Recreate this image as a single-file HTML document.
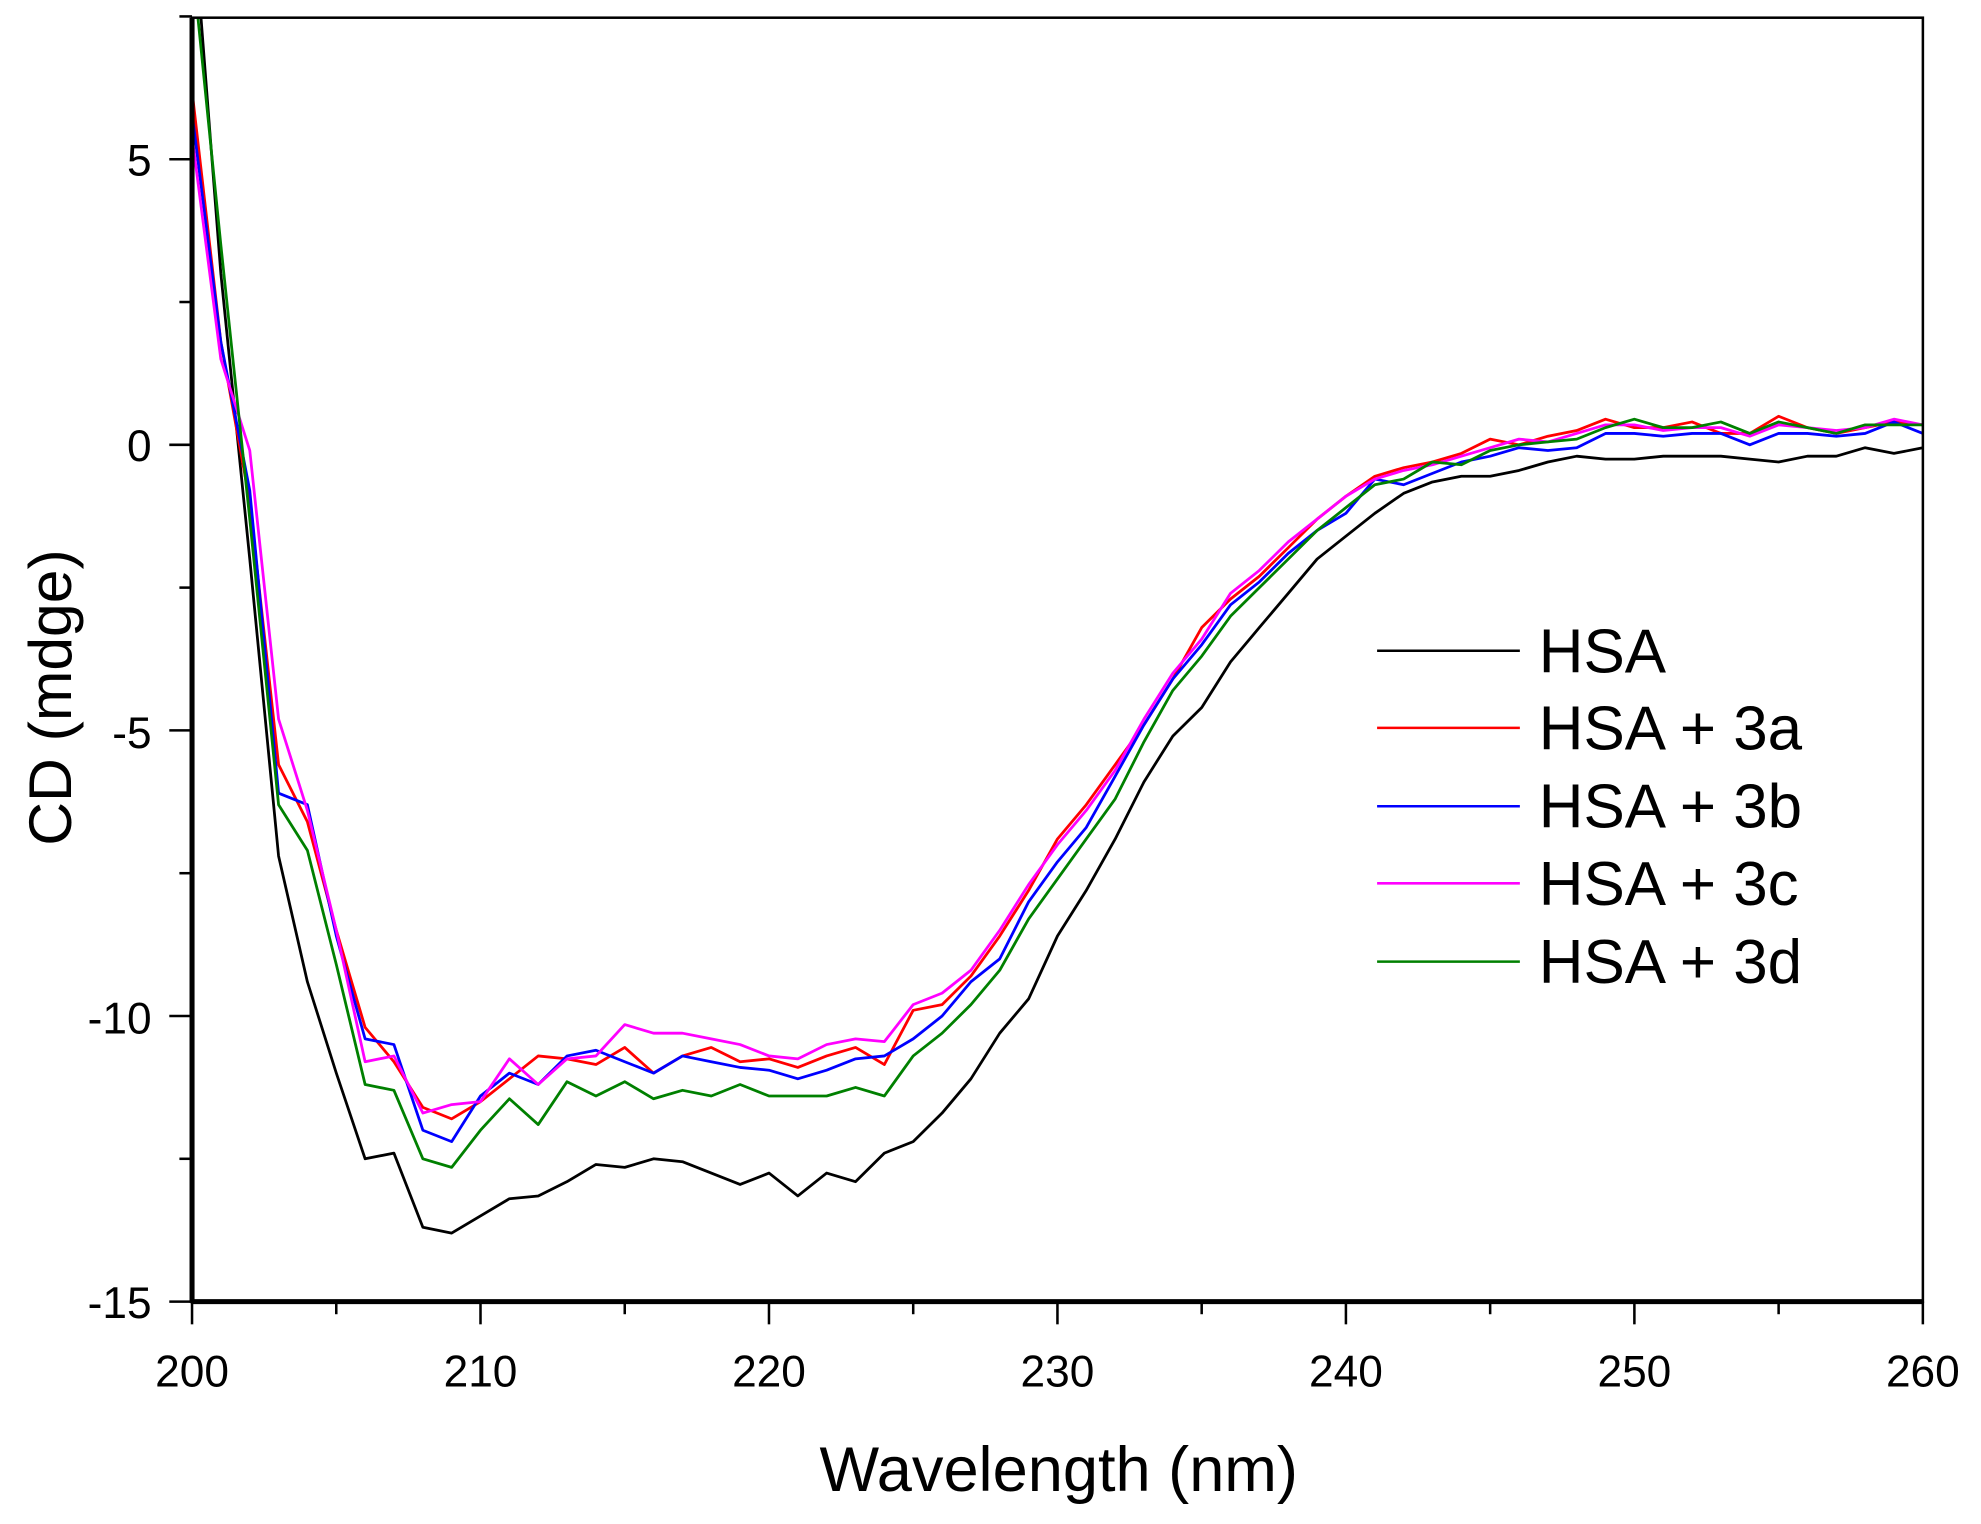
<!DOCTYPE html>
<html><head><meta charset="utf-8"><style>
html,body{margin:0;padding:0;background:#fff;width:1981px;height:1524px;overflow:hidden}
svg{display:block}
text{font-family:"Liberation Sans",Arial,sans-serif;fill:#000}
</style></head><body>
<svg id="s" width="1981" height="1524" viewBox="0 0 1568 1206" preserveAspectRatio="none" xmlns="http://www.w3.org/2000/svg">
<defs><clipPath id="c"><rect x="152" y="14" width="1370" height="1016"/></clipPath></defs>
<g id="plot" clip-path="url(#c)"></g>
<rect x="152" y="14" width="1370" height="1016" fill="none" stroke="#000" stroke-width="2"/>
<line x1="152" y1="14" x2="152" y2="1031" stroke="#000" stroke-width="4"/>
<line x1="151" y1="1030" x2="1522" y2="1030" stroke="#000" stroke-width="4"/>
<g id="ticks" stroke="#000" stroke-width="2"></g>
<g font-size="35" text-anchor="end">
<text x="120" y="139">5</text><text x="120" y="365">0</text><text x="120" y="592">-5</text><text x="120" y="818">-10</text><text x="120" y="1043">-15</text>
</g>
<g font-size="35" text-anchor="middle" id="xl"></g>
<text x="838" y="1180" font-size="50" text-anchor="middle">Wavelength (nm)</text>
<text transform="translate(56,552) rotate(-90)" font-size="48" text-anchor="middle">CD (mdge)</text>
<g font-size="49">
<line x1="1090" y1="515" x2="1203" y2="515" stroke="#000" stroke-width="2"/><text x="1218" y="532">HSA</text>
<line x1="1090" y1="576" x2="1203" y2="576" stroke="#ff0000" stroke-width="2"/><text x="1218" y="593">HSA + 3a</text>
<line x1="1090" y1="638" x2="1203" y2="638" stroke="#0000ff" stroke-width="2"/><text x="1218" y="655">HSA + 3b</text>
<line x1="1090" y1="699" x2="1203" y2="699" stroke="#ff00ff" stroke-width="2"/><text x="1218" y="716">HSA + 3c</text>
<line x1="1090" y1="761" x2="1203" y2="761" stroke="#008000" stroke-width="2"/><text x="1218" y="778">HSA + 3d</text>
</g>
</svg>
<script>
var NS="http://www.w3.org/2000/svg";
function X(n){return 152+(n-200)*22.833}
function Y(v){return 352-v*45.2}
var tk=document.getElementById('ticks'),xl=document.getElementById('xl');
function ln(a,b,c,d){var l=document.createElementNS(NS,'line');l.setAttribute('x1',a);l.setAttribute('y1',b);l.setAttribute('x2',c);l.setAttribute('y2',d);tk.appendChild(l);}
for(var n=200;n<=260;n+=5){var x=X(n);ln(x,1030,x,n%10==0?1048:1040);if(n%10==0){var t=document.createElementNS(NS,'text');t.setAttribute('x',x);t.setAttribute('y',1097);t.textContent=n;xl.appendChild(t);}}
for(var v=-15;v<=7.5;v+=2.5){var y=Y(v);ln(v%5==0?134:142,y,152,y);}
var D={
"#000000":[9.5,3,-2,-7.2,-9.4,-11,-12.5,-12.4,-13.7,-13.8,-13.5,-13.2,-13.15,-12.9,-12.6,-12.65,-12.5,-12.55,-12.75,-12.95,-12.75,-13.15,-12.75,-12.9,-12.4,-12.2,-11.7,-11.1,-10.3,-9.7,-8.6,-7.8,-6.9,-5.9,-5.1,-4.6,-3.8,-3.2,-2.6,-2.0,-1.6,-1.2,-0.85,-0.65,-0.55,-0.55,-0.45,-0.3,-0.2,-0.25,-0.25,-0.2,-0.2,-0.2,-0.25,-0.3,-0.2,-0.2,-0.05,-0.15,-0.05],
"#ff0000":[6.2,1.8,-1.0,-5.6,-6.6,-8.5,-10.2,-10.8,-11.6,-11.8,-11.5,-11.1,-10.7,-10.75,-10.85,-10.55,-11.0,-10.7,-10.55,-10.8,-10.75,-10.9,-10.7,-10.55,-10.85,-9.9,-9.8,-9.3,-8.6,-7.8,-6.9,-6.3,-5.6,-4.9,-4.1,-3.2,-2.7,-2.3,-1.8,-1.3,-0.9,-0.55,-0.4,-0.3,-0.15,0.1,0.0,0.15,0.25,0.45,0.3,0.3,0.4,0.2,0.2,0.5,0.3,0.2,0.3,0.4,0.35],
"#0000ff":[5.8,1.8,-0.8,-6.1,-6.3,-8.6,-10.4,-10.5,-12.0,-12.2,-11.4,-11.0,-11.2,-10.7,-10.6,-10.8,-11.0,-10.7,-10.8,-10.9,-10.95,-11.1,-10.95,-10.75,-10.7,-10.4,-10.0,-9.4,-9.0,-8.0,-7.3,-6.7,-5.8,-4.9,-4.1,-3.5,-2.8,-2.4,-1.9,-1.5,-1.2,-0.6,-0.7,-0.5,-0.3,-0.2,-0.05,-0.1,-0.05,0.2,0.2,0.15,0.2,0.2,0.0,0.2,0.2,0.15,0.2,0.4,0.2],
"#ff00ff":[5.4,1.5,-0.1,-4.8,-6.4,-8.5,-10.8,-10.7,-11.7,-11.55,-11.5,-10.75,-11.2,-10.75,-10.7,-10.15,-10.3,-10.3,-10.4,-10.5,-10.7,-10.75,-10.5,-10.4,-10.45,-9.8,-9.6,-9.2,-8.5,-7.7,-7.0,-6.4,-5.7,-4.8,-4.0,-3.4,-2.6,-2.2,-1.7,-1.3,-0.9,-0.6,-0.45,-0.35,-0.2,-0.05,0.1,0.05,0.2,0.35,0.35,0.25,0.3,0.3,0.15,0.35,0.3,0.25,0.3,0.45,0.35],
"#008000":[8.5,3.5,-1.3,-6.3,-7.1,-9.1,-11.2,-11.3,-12.5,-12.65,-12.0,-11.45,-11.9,-11.15,-11.4,-11.15,-11.45,-11.3,-11.4,-11.2,-11.4,-11.4,-11.4,-11.25,-11.4,-10.7,-10.3,-9.8,-9.2,-8.3,-7.6,-6.9,-6.2,-5.2,-4.3,-3.7,-3.0,-2.5,-2.0,-1.5,-1.1,-0.7,-0.6,-0.3,-0.35,-0.1,0.0,0.05,0.1,0.3,0.45,0.3,0.3,0.4,0.2,0.4,0.3,0.2,0.35,0.35,0.35]};
var g=document.getElementById('plot');
for(var c in D){var a=D[c],d='';for(var i=0;i<a.length;i++){d+=(i?'L':'M')+X(200+i).toFixed(1)+' '+Y(a[i]).toFixed(1);}
var p=document.createElementNS(NS,'path');p.setAttribute('d',d);p.setAttribute('fill','none');p.setAttribute('stroke',c);p.setAttribute('stroke-width','2.2');p.setAttribute('stroke-linejoin','round');g.appendChild(p);}
</script>
</body></html>
